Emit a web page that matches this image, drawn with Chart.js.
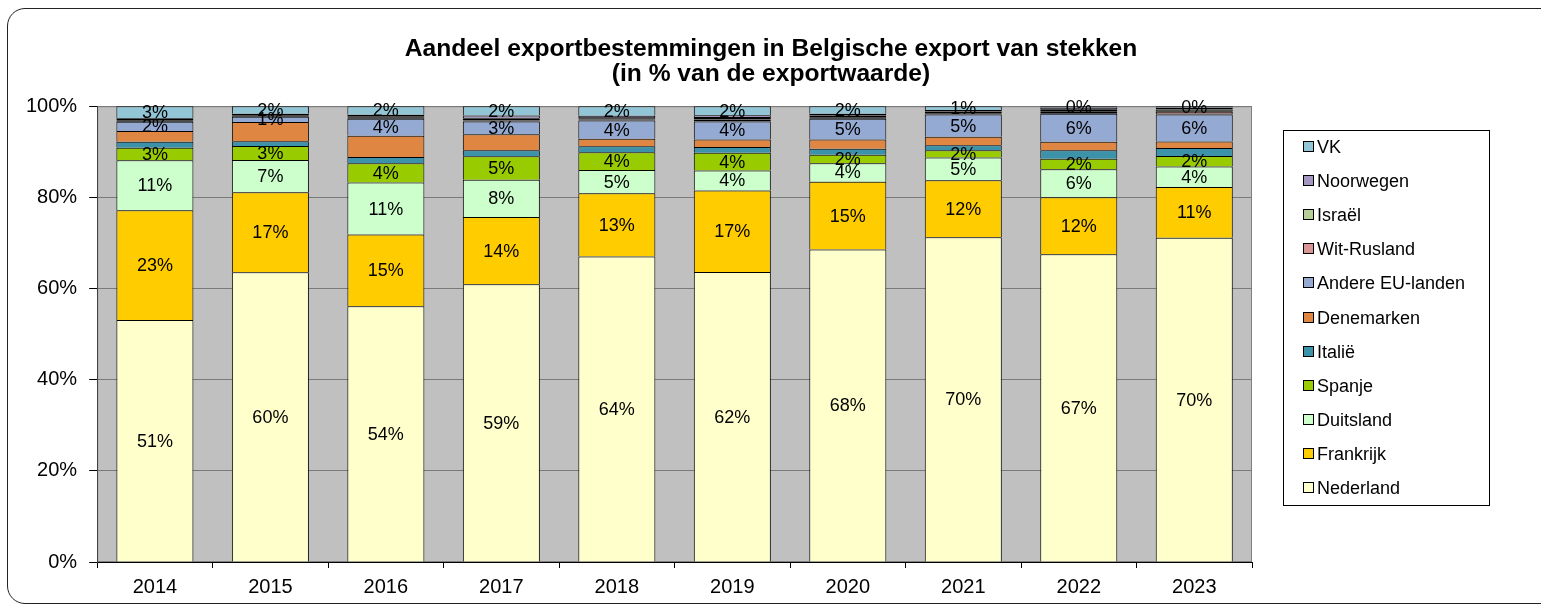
<!doctype html>
<html lang="nl">
<head>
  <meta charset="utf-8">
  <title>Aandeel exportbestemmingen in Belgische export van stekken</title>
  <style>
    * {
      margin: 0;
      padding: 0;
    }
    body {
      background: white;
      font-family: 'Liberation Sans', Arial, sans-serif;
    }
    .frame {
      position: absolute;
      left: 7px;
      top: 8px;
      width: 1550px;
      height: 594px;
      border: 1px solid #222;
      border-radius: 18px;
    }
    .chartBox {
      position: absolute;
      left: 0;
      top: 0;
      width: 1541px;
      height: 606px;
    }
  </style>
</head>
<body>
  <div class="frame"></div>
  <div class="chartBox">
    <canvas id="myChart"></canvas>
  </div>

  <script src="https://cdn.jsdelivr.net/npm/chart.js"></script>
  <script>
    // years on the x-axis
    const years = ['2014', '2015', '2016', '2017', '2018', '2019', '2020', '2021', '2022', '2023'];

    // share of export value per destination (%)
    const nederland  = [51.3, 60.0, 54.0, 59.0, 64.0, 61.9, 68.3, 70.0, 67.0, 70.1];
    const frankrijk  = [23.3, 16.6, 15.1, 14.3, 13.2, 17.4, 14.8, 12.3, 12.4, 11.0];
    const duitsland  = [10.6, 6.7, 11.0, 7.9, 4.9, 4.3, 4.05, 4.9, 6.1, 4.4];
    const spanje     = [2.65, 2.9, 4.05, 5.0, 3.7, 3.75, 1.85, 1.55, 2.3, 2.3];
    const italie     = [1.25, 0.95, 1.35, 1.3, 1.25, 1.25, 1.3, 1.1, 1.85, 1.7];
    const denemarken = [2.3, 4.0, 4.45, 3.4, 1.6, 1.6, 2.0, 1.8, 1.85, 1.4];
    const andereEU   = [1.95, 1.1, 3.6, 2.7, 3.8, 3.85, 4.55, 4.8, 6.1, 5.85];
    const witRusland = [0.2, 0.17, 0.2, 0.2, 0.2, 0.4, 0.35, 0.3, 0.45, 0.6];
    const israel     = [0.2, 0.2, 0.2, 0.4, 0.3, 0.35, 0.35, 0.35, 0.4, 0.5];
    const noorwegen  = [0.35, 0.25, 0.45, 0.65, 0.5, 0.55, 0.4, 0.35, 0.5, 0.4];
    const vk         = [2.55, 1.55, 1.8, 2.0, 2.0, 1.95, 1.65, 0.8, 0.3, 0.3];

    const yTicks = [0, 20, 40, 60, 80, 100];

    // small = only a sliver, outlined all round so it shows as a dark band
    const series = [
      { label: 'Nederland',        values: nederland,  color: '#ffffcc', showLabels: true },
      { label: 'Frankrijk',        values: frankrijk,  color: '#ffcc00', showLabels: true },
      { label: 'Duitsland',        values: duitsland,  color: '#ccffcc', showLabels: true },
      { label: 'Spanje',           values: spanje,     color: '#99cc00', showLabels: true },
      { label: 'Italië',           values: italie,     color: '#3c92a8', showLabels: false },
      { label: 'Denemarken',       values: denemarken, color: '#de8642', showLabels: false },
      { label: 'Andere EU-landen', values: andereEU,   color: '#95aad2', showLabels: true },
      { label: 'Wit-Rusland',      values: witRusland, color: '#da9694', showLabels: false, small: true },
      { label: 'Israël',           values: israel,     color: '#b5cf97', showLabels: false, small: true },
      { label: 'Noorwegen',        values: noorwegen,  color: '#a497c2', showLabels: false, small: true },
      { label: 'VK',               values: vk,         color: '#92c5d5', showLabels: true }
    ];

    // 100% stacked: every bar is scaled to the total of its year
    const totals = years.map((y, i) => series.reduce((sum, s) => sum + s.values[i], 0));

    const FONT = "'Liberation Sans', Arial, sans-serif";

    // grey plot background
    const plotBackground = {
      id: 'plotBackground',
      beforeDraw(chart) {
        const { ctx, chartArea: a } = chart;
        ctx.save();
        ctx.fillStyle = '#c0c0c0';
        ctx.fillRect(a.left, a.top, a.width, a.height);
        ctx.strokeStyle = '#808080';
        ctx.lineWidth = 1;
        ctx.strokeRect(a.left + 0.5, a.top + 0.5, a.width - 1, a.height - 1);
        ctx.restore();
      }
    };

    // percentage labels in the middle of the segments
    const segmentLabels = {
      id: 'segmentLabels',
      afterDatasetsDraw(chart) {
        const ctx = chart.ctx;
        ctx.save();
        ctx.font = '18px ' + FONT;
        ctx.fillStyle = '#000';
        ctx.textAlign = 'center';
        ctx.textBaseline = 'middle';
        chart.data.datasets.forEach((ds, i) => {
          if (!ds.showLabels) return;
          chart.getDatasetMeta(i).data.forEach((bar, j) => {
            ctx.fillText(Math.round(ds.shares[j]) + '%', bar.x, (bar.y + bar.base) / 2 + 1);
          });
        });
        ctx.restore();
      }
    };

    // legend in a box right of the plot, VK on top
    const boxedLegend = {
      id: 'boxedLegend',
      afterDraw(chart) {
        const ctx = chart.ctx;
        const left = chart.chartArea.right + 31;
        const top = 130;
        const sets = chart.data.datasets.slice().reverse();
        ctx.save();
        ctx.strokeStyle = '#000';
        ctx.lineWidth = 1;
        ctx.strokeRect(left + 0.5, top + 0.5, 206, 375);
        ctx.font = '18px ' + FONT;
        ctx.textAlign = 'left';
        ctx.textBaseline = 'middle';
        sets.forEach((ds, i) => {
          const y = Math.round(top + 17 + i * 34.1);
          ctx.fillStyle = ds.backgroundColor;
          ctx.fillRect(left + 20.5, y - 5.5, 10, 10);
          ctx.strokeStyle = '#000';
          ctx.strokeRect(left + 20.5, y - 5.5, 10, 10);
          ctx.fillStyle = '#000';
          ctx.fillText(ds.label, left + 34, y + 1);
        });
        ctx.restore();
      }
    };

    const data = {
      labels: years,
      datasets: series.map(s => ({
        label: s.label,
        data: s.values.map((v, i) => v / totals[i] * 100),
        shares: s.values,
        showLabels: s.showLabels,
        backgroundColor: s.color,
        borderColor: '#000',
        borderWidth: 1,
        borderSkipped: s.small ? false : 'start',
        barPercentage: 0.667,
        categoryPercentage: 1
      }))
    };

    const config = {
      type: 'bar',
      data,
      options: {
        responsive: true,
        maintainAspectRatio: false,
        animation: false,
        layout: {
          padding: { left: 14, right: 13, top: 0, bottom: 0 }
        },
        scales: {
          x: {
            stacked: true,
            grid: {
              display: true,
              drawOnChartArea: false,
              tickLength: 6,
              tickColor: '#000'
            },
            border: { display: true, color: '#000' },
            ticks: {
              color: '#000',
              padding: 7,
              font: { size: 20, family: FONT }
            }
          },
          y: {
            stacked: true,
            min: 0,
            max: 100,
            afterBuildTicks(scale) {
              scale.ticks = yTicks.map(v => ({ value: v }));
            },
            grid: {
              color: '#7a7a7a',
              tickLength: 8,
              tickColor: '#000'
            },
            border: { display: true, color: '#404040' },
            ticks: {
              color: '#000',
              padding: 12,
              font: { size: 20, family: FONT },
              callback: v => v + '%'
            }
          },
          // empty space on the right for the legend box
          legendSpace: {
            position: 'right',
            display: true,
            grid: { display: false },
            border: { display: false },
            ticks: { display: false },
            afterFit(scale) {
              scale.width = 276;
            }
          }
        },
        plugins: {
          legend: { display: false },
          tooltip: { enabled: false },
          title: {
            display: true,
            text: ['Aandeel exportbestemmingen in Belgische export van stekken', '(in % van de exportwaarde)'],
            color: '#000',
            font: { size: 24.6, weight: 'bold', family: FONT, lineHeight: 1.0 },
            padding: { top: 37, bottom: 20 }
          }
        }
      },
      plugins: [plotBackground, segmentLabels, boxedLegend]
    };

    const myChart = new Chart(document.getElementById('myChart'), config);
  </script>
</body>
</html>
